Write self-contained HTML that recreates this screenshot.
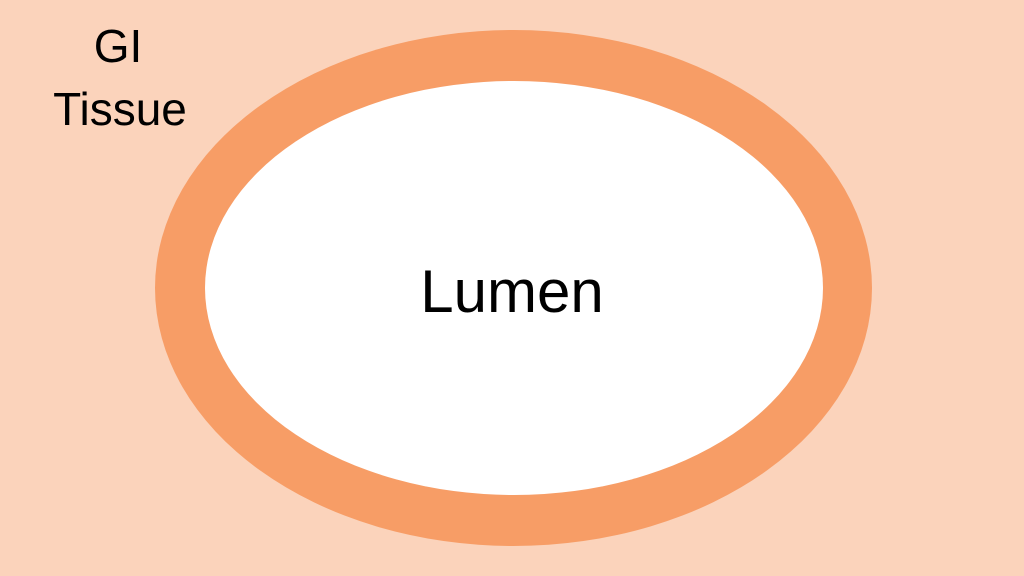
<!DOCTYPE html>
<html><head><style>
html,body{margin:0;padding:0;}
body{width:1024px;height:576px;background:#fbd3bb;position:relative;overflow:hidden;font-family:"Liberation Sans",sans-serif;}
</style></head><body>
<svg width="1024" height="576" style="position:absolute;left:0;top:0">
<rect width="1024" height="576" fill="#fbd3bb"/>
<ellipse cx="513.5" cy="288" rx="358.5" ry="258" fill="#f79d66"/>
<ellipse cx="514" cy="288" rx="309" ry="207" fill="#ffffff"/>
<text x="118" y="62" font-size="46" text-anchor="middle" fill="#000" font-family="Liberation Sans, sans-serif">GI</text>
<text x="120" y="125" font-size="46" text-anchor="middle" fill="#000" font-family="Liberation Sans, sans-serif">Tissue</text>
<text x="512" y="312" font-size="60" text-anchor="middle" fill="#000" font-family="Liberation Sans, sans-serif">Lumen</text>
</svg>
</body></html>
